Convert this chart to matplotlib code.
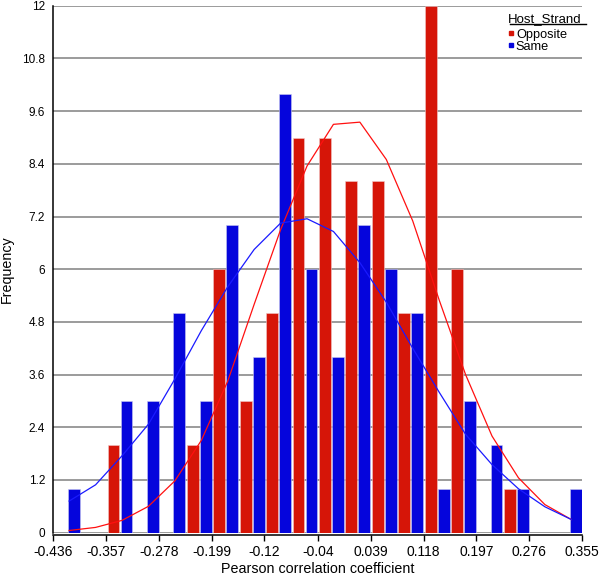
import matplotlib
matplotlib.use('Agg')
import matplotlib.pyplot as plt
from matplotlib.lines import Line2D
import numpy as np

plt.rcParams['font.family'] = ['Liberation Sans', 'DejaVu Sans']

# x ticks (bin edges every second tick) and y ticks as shown
x_ticks = [-0.436, -0.357, -0.278, -0.199, -0.12, -0.04, 0.039, 0.118, 0.197, 0.276, 0.355]
x_labels = ['-0.436', '-0.357', '-0.278', '-0.199', '-0.12', '-0.04', '0.039', '0.118', '0.197', '0.276', '0.355']
y_ticks = [0, 1.2, 2.4, 3.6, 4.8, 6, 7.2, 8.4, 9.6, 10.8, 12]
y_labels = ['0', '1.2', '2.4', '3.6', '4.8', '6', '7.2', '8.4', '9.6', '10.8', '12']

# counts per bin (20 bins)
opposite = [0, 0, 2, 0, 0, 2, 6, 3, 5, 9, 9, 8, 8, 5, 12, 6, 0, 1, 0, 0]
same = [1, 0, 3, 3, 5, 3, 7, 4, 10, 6, 4, 7, 6, 5, 1, 3, 2, 1, 0, 1]

# fitted curves at each bin
opposite_fit = [0.05, 0.12, 0.28, 0.6, 1.18, 2.1, 3.45, 5.2, 6.9, 8.35,
                9.3, 9.35, 8.5, 7.1, 5.3, 3.6, 2.2, 1.25, 0.64, 0.3]
same_fit = [0.72, 1.09, 1.75, 2.47, 3.5, 4.6, 5.6, 6.45, 7.05, 7.15,
            6.86, 6.15, 5.25, 4.2, 3.2, 2.24, 1.55, 1.0, 0.59, 0.3]

red = '#d61508'
blue = '#0505dc'

nbins = len(opposite)
bw = (x_ticks[-1] - x_ticks[0]) / nbins
centers = x_ticks[0] + bw * (np.arange(nbins) + 0.5)

fig = plt.figure(figsize=(6, 5.79), dpi=100)
ax = fig.add_axes([0.0888, 0.08, 0.881, 0.910])

ax.set_axisbelow(True)
ax.yaxis.grid(True, color='#808080', linewidth=1.1)

ax.bar(centers - 0.22 * bw, opposite, width=0.45 * bw, color=red,
       edgecolor='#f0c8c8', linewidth=0.4, zorder=2)
ax.bar(centers + 0.27 * bw, same, width=0.45 * bw, color=blue,
       edgecolor='#c8c8f0', linewidth=0.4, zorder=2)

ax.plot(centers + 0.1 * bw, opposite_fit, color='#ff1010', linewidth=0.9, zorder=3)
ax.plot(centers + 0.1 * bw, same_fit, color='#1a1aff', linewidth=0.9, zorder=3)

ax.set_xlim(x_ticks[0], x_ticks[-1])
ax.set_ylim(0, 12)
ax.set_xticks(x_ticks)
ax.set_xticklabels(x_labels, fontsize=8.5)
ax.set_yticks(y_ticks)
ax.set_yticklabels(y_labels, fontsize=8.5)
ax.tick_params(axis='x', length=4, width=1, pad=3)
ax.tick_params(axis='y', length=0, pad=6)

for s in ['top', 'right']:
    ax.spines[s].set_visible(False)
ax.spines['bottom'].set_position(('outward', 2))
ax.spines['bottom'].set_linewidth(1.1)
ax.spines['left'].set_linewidth(1.1)

ax.set_xlabel('Pearson correlation coefficient', fontsize=10.3, labelpad=2)
ax.set_ylabel('Frequency', fontsize=10.3, labelpad=6)

handles = [Line2D([], [], marker='s', linestyle='none', color=red, markersize=3.5),
           Line2D([], [], marker='s', linestyle='none', color=blue, markersize=3.5)]
leg = ax.legend(handles, ['Opposite', 'Same'], title='Host_Strand', loc='upper right',
                bbox_to_anchor=(1.012, 0.999), frameon=False, fontsize=9.2,
                title_fontsize=9.5, handlelength=0.4, handletextpad=0.2,
                labelspacing=0.0, borderpad=0, alignment='left')
leg._legend_box.sep = 3
ax.add_line(Line2D([0.864, 1.008], [0.965, 0.965], transform=ax.transAxes,
                   color='black', linewidth=1, clip_on=False))

fig.savefig('out.png', dpi=100)
